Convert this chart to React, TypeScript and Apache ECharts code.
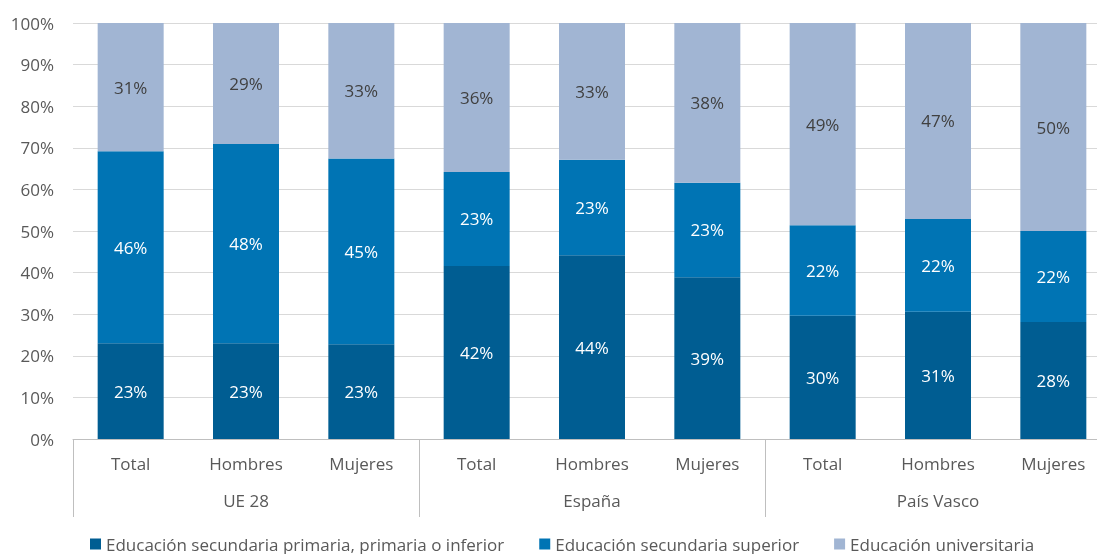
import React, { useEffect, useRef } from "react";
import * as echarts from "echarts";

const categories = ["Total", "Hombres", "Mujeres", "Total", "Hombres", "Mujeres", "Total", "Hombres", "Mujeres"];
const groups = ["UE 28", "España", "País Vasco"];
const seriesNames = [
  "Educación secundaria primaria, primaria o inferior",
  "Educación secundaria superior",
  "Educación universitaria",
];
const primaria = [23.0, 23.0, 22.8, 41.6, 44.2, 38.9, 29.6, 30.6, 28.1];
const secundaria = [46.2, 47.9, 44.6, 22.6, 22.9, 22.7, 21.8, 22.3, 21.9];
const universitaria = [30.8, 29.1, 32.6, 35.8, 32.9, 38.4, 48.6, 47.1, 50.0];
const colors = ["#005D92", "#0074B4", "#A1B5D3"];
const labelColors = ["#FFFFFF", "#FFFFFF", "#404040"];

const FONT = "'Open Sans', 'Noto Sans', sans-serif";
const FS = 17;

export default function App() {
  const ref = useRef<HTMLDivElement>(null);
  useEffect(() => {
    if (!ref.current) return;
    const chart = echarts.init(ref.current, null, { renderer: "svg" });
    const values = [primaria, secundaria, universitaria];
    chart.setOption({
      animation: false,
      textStyle: { fontFamily: FONT },
      grid: { left: 73, top: 23, height: 416, width: 1038, containLabel: false },
      legend: {
        left: 90,
        top: 535,
        padding: 0,
        itemWidth: 11,
        itemHeight: 11,
        itemGap: 35,
        icon: "rect",
        textStyle: { fontSize: FS, lineHeight: 18, color: "#595959", fontFamily: FONT },
        data: seriesNames,
      },
      xAxis: [
        {
          type: "category",
          data: categories,
          axisLine: { show: true, lineStyle: { color: "#BFBFBF", width: 1 } },
          axisTick: { show: false },
          axisLabel: { color: "#595959", fontSize: FS, margin: 16, interval: 0, fontFamily: FONT },
        },
        {
          type: "category",
          data: groups,
          position: "bottom",
          axisLine: { show: false },
          axisTick: { show: true, length: 78, interval: 0, lineStyle: { color: "#BFBFBF", width: 1 } },
          axisLabel: { color: "#595959", fontSize: FS, margin: 53, interval: 0, fontFamily: FONT },
        },
      ],
      yAxis: {
        type: "value",
        min: 0,
        max: 100,
        interval: 10,
        axisLine: { show: false },
        axisTick: { show: false },
        axisLabel: { formatter: "{value}%", color: "#595959", fontSize: FS, margin: 19, fontFamily: FONT },
        splitLine: { lineStyle: { color: "#D9D9D9", width: 1 } },
      },
      series: seriesNames.map((name, i) => ({
        name,
        type: "bar",
        stack: "total",
        xAxisIndex: 0,
        barWidth: 66,
        data: values[i],
        itemStyle: { color: colors[i] },
        label: {
          show: true,
          position: "inside",
          color: labelColors[i],
          fontSize: FS,
          fontFamily: FONT,
          formatter: (p: any) => Math.round(p.value) + "%",
        },
      })),
    });
    return () => chart.dispose();
  }, []);
  return (
    <div style={{ position: "fixed", left: 0, top: 0, width: 1097, height: 554, overflow: "hidden" }}>
      <div ref={ref} style={{ width: 1120, height: 554 }} />
    </div>
  );
}
